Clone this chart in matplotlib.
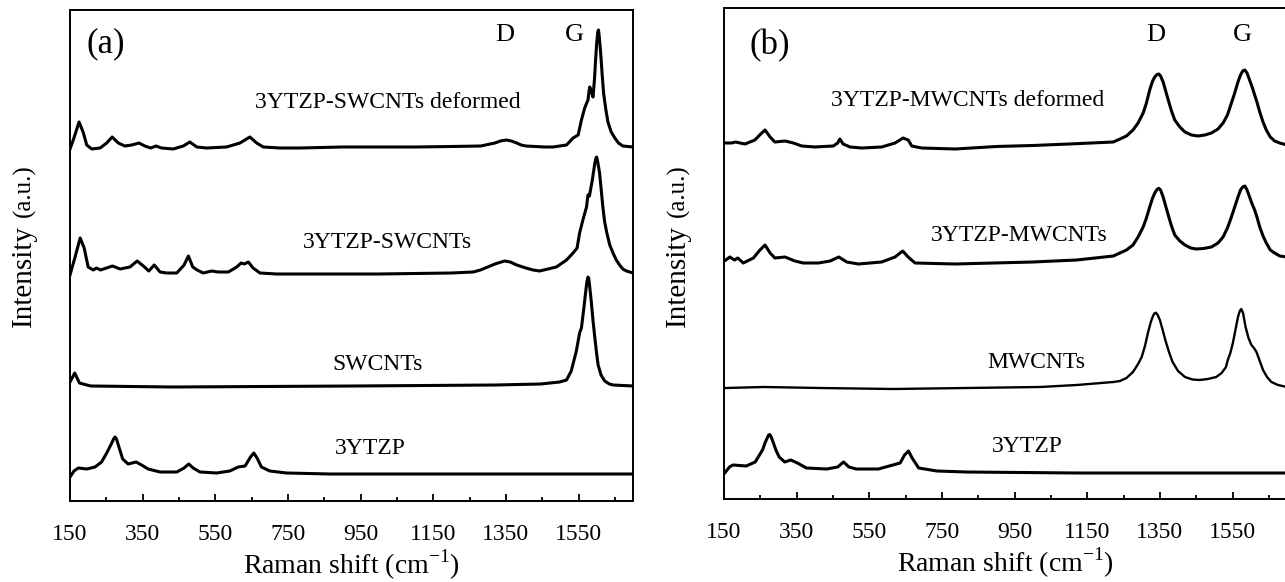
import matplotlib
matplotlib.use('Agg')
import matplotlib.pyplot as plt
from matplotlib.ticker import FixedLocator

plt.rcParams['font.family'] = ['Liberation Serif', 'DejaVu Serif']
plt.rcParams['mathtext.fontset'] = 'custom'
plt.rcParams['mathtext.rm'] = 'Liberation Serif'

# ---- panel (a): SWCNT spectra (x in cm-1, y in a.u. above each baseline)
a_deformed_x = [150, 159, 175, 187, 196, 210, 233, 251, 266, 283, 301, 320, 340, 356, 372, 387,
                402, 434, 462, 480, 499, 526, 581, 618, 645, 664, 682, 728, 783, 900, 1100,
                1200, 1281, 1300, 1320, 1335, 1351, 1365, 1380, 1392, 1405, 1457, 1480, 1517,
                1535, 1549, 1558, 1567, 1576, 1579, 1581, 1583, 1585, 1590, 1594, 1597, 1600,
                1603, 1605, 1607, 1611, 1615, 1619, 1625, 1631, 1640, 1650, 1660, 1672, 1700]
a_deformed_y = [0, 9, 27, 16, 4, 0, 1, 6, 12, 6, 3, 4, 6, 3, 1, 3,
                1, 0, 3, 7, 2, 1, 2, 6, 12, 6, 2, 1, 1, 2, 2,
                2.5, 3, 4.5, 6, 8, 9, 8, 6, 4, 3, 2, 2, 4,
                11, 14, 29, 41, 49, 58, 62, 60, 57, 52, 70, 89, 106,
                117, 119, 113, 96, 75, 56, 40, 27, 17, 11, 6, 3, 2]

a_composite_x = [150, 164, 178, 189, 200, 214, 223, 234, 267, 288, 315, 335, 352, 367, 382, 398,
                 416, 444, 464, 476, 488, 500, 517, 540, 558, 586, 609, 621, 630, 641, 654,
                 673, 719, 783, 1000, 1200, 1260, 1280, 1300, 1320, 1346, 1362, 1380, 1405,
                 1425, 1443, 1489, 1517, 1535, 1546, 1553, 1562, 1572, 1576, 1580, 1588, 1595,
                 1598, 1600, 1603, 1608, 1612, 1617, 1622, 1628, 1636, 1645, 1654, 1663, 1672,
                 1682, 1700]
a_composite_y = [-1, 17, 36, 26, 7, 4, 6, 4, 8, 5, 7, 13, 8, 3, 9, 2,
                 1, 1, 9, 18, 7, 4, 1, 3, 2, 2, 7, 11, 10, 12, 6,
                 1, 0, 0, 0, 1, 2, 4, 7, 10, 13, 12, 9, 6,
                 4, 3, 7, 14, 21, 26, 41, 54, 67, 79, 78, 94, 111,
                 116, 117, 112, 101, 86, 67, 52, 41, 29, 21, 14, 9, 5,
                 3, 1]

a_swcnt_x = [150, 163, 176, 207, 434, 930, 1322, 1446, 1498, 1517, 1530, 1544, 1553, 1558,
             1565, 1570, 1573, 1576, 1578, 1580, 1585, 1590, 1595, 1600, 1604, 1612, 1622,
             1635, 1645, 1700]
a_swcnt_y = [4, 13, 3, 0, -1, 0, 1, 2, 4, 6, 15, 35, 53, 58,
             79, 95, 104, 109, 108, 102, 85, 65, 48, 32, 21, 11, 5,
             2, 1, 0]

a_ytzp_x = [150, 161, 173, 196, 219, 237, 251, 265, 270, 274, 278, 283, 295, 310, 332, 347,
            365, 398, 444, 464, 477, 489, 508, 554, 590, 613, 632, 647, 656, 665, 677, 700,
            746, 865, 1700]
a_ytzp_y = [-3, 3, 6, 5, 7, 12, 21, 31, 35, 37, 35, 29, 15, 10, 12, 9,
            5, 2, 2, 6, 10, 6, 2, 1, 3, 7, 8, 17, 21, 16, 7, 3,
            1, 0, 0]

# ---- panel (b): MWCNT spectra
b_deformed_x = [155, 171, 182, 194, 208, 235, 251, 263, 277, 290, 318, 341, 364, 400, 451, 463,
                469, 478, 497, 529, 584, 621, 643, 657, 667, 694, 786, 900, 1000, 1100, 1222,
                1240, 1258, 1276, 1290, 1304, 1313, 1322, 1330, 1336, 1342, 1347, 1352, 1359,
                1366, 1373, 1382, 1391, 1405, 1419, 1437, 1455, 1474, 1492, 1510, 1524, 1536,
                1547, 1556, 1565, 1572, 1578, 1584, 1590, 1597, 1604, 1611, 1618, 1625, 1634,
                1643, 1654, 1666, 1680, 1700]
b_deformed_y = [5, 5, 6, 5, 4, 8, 14, 18, 11, 6, 7, 5, 2, 1, 2, 5,
                9, 4, 1, 0, 1, 5, 10, 8, 2, 0, -1, 1.5, 2.5, 4, 6,
                9, 12, 18, 25, 35, 45, 58, 67, 71, 73.5, 74, 72, 66,
                57, 48, 37, 28, 21, 16, 13, 12, 13, 15, 19, 25, 33,
                45, 55, 66, 73, 77, 78, 75, 68, 61, 53, 45, 36, 26,
                18, 11, 7, 5, 3]

b_composite_x = [155, 166, 179, 188, 203, 231, 249, 263, 277, 290, 318, 345, 368, 410, 442, 466,
                 488, 520, 584, 621, 642, 657, 676, 786, 1000, 1121, 1222, 1240, 1258, 1276,
                 1290, 1304, 1313, 1322, 1330, 1336, 1342, 1347, 1352, 1359, 1366, 1373, 1382,
                 1391, 1405, 1419, 1435, 1450, 1470, 1492, 1510, 1524, 1536, 1547, 1556, 1565,
                 1572, 1578, 1584, 1590, 1597, 1604, 1611, 1618, 1625, 1634, 1643, 1654, 1666,
                 1680, 1700]
b_composite_y = [4, 7, 4, 6, 1, 6, 14, 19, 11, 6, 7, 3, 1, 1, 3, 7,
                 2, 0, 2, 7, 13, 7, 1, 0, 2, 4, 8, 11, 14, 19,
                 27, 37, 46, 57, 66, 71, 74.5, 75.7, 74, 67, 58, 49, 38,
                 29, 23, 19, 16, 15, 15.5, 17, 21, 27, 36, 47, 57, 67,
                 74, 77, 78, 74, 67, 60, 54, 46, 37, 28, 21, 14, 11,
                 8, 7]

b_mwcnt_x = [155, 261, 413, 615, 817, 1020, 1121, 1222, 1240, 1258, 1276, 1290, 1300, 1309,
             1317, 1325, 1331, 1335, 1339, 1344, 1350, 1357, 1365, 1375, 1385, 1400, 1419,
             1440, 1459, 1482, 1505, 1520, 1532, 1537, 1544, 1551, 1558, 1565, 1570, 1574,
             1579, 1586, 1594, 1602, 1609, 1616, 1625, 1634, 1645, 1657, 1675, 1700]
b_mwcnt_y = [0, 1, 0, -1, 0, 1, 3, 6, 7, 10, 16, 24, 31, 42,
             55, 66, 72, 74.5, 75.3, 73, 68, 59, 48, 36, 26, 17, 11,
             8.5, 8, 9, 11, 15, 21, 28, 35, 45, 58, 71, 77, 79,
             75, 61, 50, 43, 40, 36, 27, 18, 11, 6, 3, 1]

b_ytzp_x = [152, 165, 175, 211, 236, 256, 264, 269, 273, 276, 280, 286, 294, 302, 317, 334,
            352, 377, 433, 463, 479, 494, 514, 575, 615, 635, 647, 658, 668, 686, 736, 817,
            1121, 1700]
b_ytzp_y = [0, 6, 8, 7, 11, 23, 31, 35, 38, 38.5, 36, 30, 22, 16, 11, 13,
            10, 5, 4, 6, 11, 6, 4, 4, 8, 10, 18, 22, 15, 5, 2, 1,
            0, 0]

# stacking offsets (top to bottom) and labels
a_offsets = [352, 227, 115, 27]
b_offsets = [351, 235, 111, 26]
a_labels = ['3YTZP-SWCNTs deformed', '3YTZP-SWCNTs', 'SWCNTs', '3YTZP']
b_labels = ['3YTZP-MWCNTs deformed', '3YTZP-MWCNTs', 'MWCNTs', '3YTZP']
a_label_pos = [(1024, 399), (1023, 259), (997, 136), (976, 53)]
b_label_pos = [(821, 399), (964, 264), (1010, 137), (985, 52)]

W, H = 1285, 582
fig = plt.figure(figsize=(W / 100, H / 100), dpi=100)
ax_a = fig.add_axes([70 / W, (H - 501) / H, 563 / W, 491 / H])
ax_b = fig.add_axes([724 / W, (H - 499) / H, 563 / W, 491 / H])


def style(ax):
    ax.set_xlim(150, 1700)
    ax.set_ylim(0, 491)
    ax.xaxis.set_major_locator(FixedLocator(range(150, 1700, 200)))
    ax.xaxis.set_minor_locator(FixedLocator(range(250, 1700, 200)))
    ax.set_yticks([])
    ax.tick_params(axis='x', which='major', direction='in', length=5, width=1.3,
                   labelsize=17, pad=16.5)
    ax.tick_params(axis='x', which='minor', direction='in', length=3, width=1.3)
    for sp in ax.spines.values():
        sp.set_linewidth(1.4)
    ax.set_xlabel('Raman shift (cm$^{\\mathregular{-1}}$)', fontsize=20, labelpad=2)


def ylabel(x_px):
    fig.text(x_px / W, 1 - 276 / H, 'Intensity', rotation=90, fontsize=21,
             ha='center', va='center')
    fig.text(x_px / W, 1 - 191 / H, '(a.u.)', rotation=90, fontsize=18,
             ha='center', va='center')


series_a = [(a_deformed_x, a_deformed_y), (a_composite_x, a_composite_y),
            (a_swcnt_x, a_swcnt_y), (a_ytzp_x, a_ytzp_y)]
for (xs, ys), off in zip(series_a, a_offsets):
    ax_a.plot(xs, [v + off for v in ys], color='black', lw=2.2, solid_joinstyle='round')
for lab, (tx, ty) in zip(a_labels, a_label_pos):
    ax_a.text(tx, ty, lab, fontsize=17, ha='center', va='center')
ax_a.text(195, 457, '(a)', fontsize=25, ha='left', va='center')
ax_a.text(1348, 466, 'D', fontsize=19, ha='center', va='center')
ax_a.text(1539, 466, 'G', fontsize=19, ha='center', va='center')

series_b = [(b_deformed_x, b_deformed_y), (b_composite_x, b_composite_y),
            (b_mwcnt_x, b_mwcnt_y), (b_ytzp_x, b_ytzp_y)]
widths_b = [2.2, 2.2, 1.7, 2.2]
for (xs, ys), off, lw in zip(series_b, b_offsets, widths_b):
    ax_b.plot(xs, [v + off for v in ys], color='black', lw=lw, solid_joinstyle='round')
for lab, (tx, ty) in zip(b_labels, b_label_pos):
    ax_b.text(tx, ty, lab, fontsize=17, ha='center', va='center')
ax_b.text(219, 453, '(b)', fontsize=25, ha='left', va='center')
ax_b.text(1338, 464, 'D', fontsize=19, ha='center', va='center')
ax_b.text(1576, 464, 'G', fontsize=19, ha='center', va='center')

style(ax_a)
style(ax_b)
ylabel(24)
ylabel(678)

fig.savefig('out.png', dpi=100)
